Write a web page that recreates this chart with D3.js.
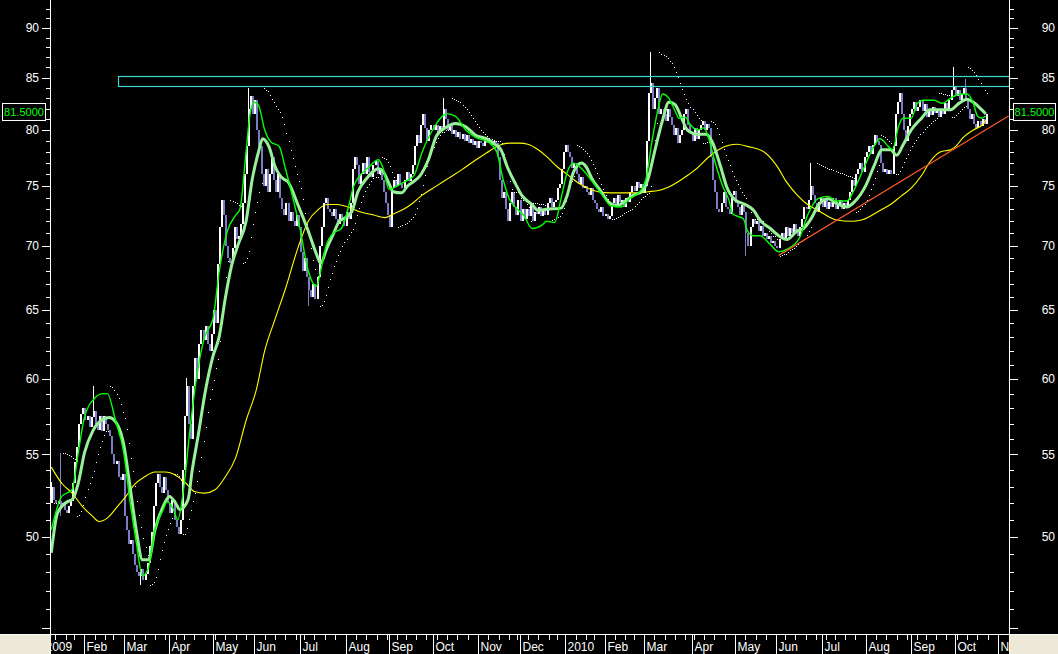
<!DOCTYPE html>
<html><head><meta charset="utf-8">
<script src="https://cdn.jsdelivr.net/npm/d3@7"></script>
<style>html,body{margin:0;padding:0;background:#000;overflow:hidden}svg{display:block}</style>
</head><body><svg id="c" width="1058" height="654"></svg>
<script>
// ---------------- DATA ----------------
const startDate = "2009-01-08";
const holidays = ["2009-01-19","2009-02-16","2009-04-10","2009-05-25","2009-07-03","2009-09-07","2009-11-26","2009-12-25",
  "2010-01-01","2010-01-18","2010-02-15","2010-04-02","2010-05-31","2010-07-05","2010-09-06"];
const monthNames = ["Jan","Feb","Mar","Apr","May","Jun","Jul","Aug","Sep","Oct","Nov","Dec"];
const firstOpen = 52.0;
const closes = [
53.0,52.2,52.0,52.1,51.8, 52.0,51.6,51.4,51.8,52.1, 53.2,54.5,55.5,57.0,57.6, 58.0,57.2,57.5,56.8,57.4,
57.8,57.0,56.6,57.5,56.5, 57.5,57.0,56.6,56.2,55.0, 54.4,54.6,53.6,53.4,53.8, 51.2,50.4,49.6,49.8,49.0,
48.4,48.0,47.8,48.2,47.6, 47.9,48.5,49.5,50.3,51.8, 53.2,53.8,53.0,52.6,53.6, 52.8,52.0,51.4,52.2,51.0,
50.6,50.2,51.0,54.0,57.5, 59.5,57.0,56.0,59.5,61.5, 60.0,62.5,63.5,62.8,63.8, 62.5,62.0,63.2,65.0,64.0,
68.5,71.5,73.8,72.5,70.0, 69.0,68.6,69.8,71.5,70.5, 70.8,71.8,73.5,76.0,78.5, 82.0,83.2,81.5,82.8,80.0,
78.5,76.0,75.0,76.5,74.5, 76.0,77.5,75.5,74.5,76.0, 74.0,73.0,72.5,73.5,72.0, 72.8,72.0,71.6,72.5,71.5,
69.5,68.0,69.0,67.5,66.5, 66.0,67.0,65.8,67.5,70.0, 71.5,73.5,74.0,73.0,72.8, 72.4,73.0,72.2,71.8,72.6,
72.0,71.6,72.8,72.2,73.5, 76.5,77.5,76.8,75.2,76.0, 77.0,76.0,77.5,76.2,75.8, 76.8,77.2,76.0,76.5,75.5,
74.5,73.5,72.5,71.5,74.8, 75.5,75.0,76.0,75.2,74.8, 75.5,76.2,75.4,76.0, 76.8,78.5,79.5,78.8,80.5,
81.5,80.2,79.0,80.0,80.5, 80.0,80.5,79.8,80.4,80.0, 82.0,81.0,80.0,80.5,79.6, 80.0,79.4,79.8,79.2,79.6,
79.0,79.5,78.8,79.2,78.6, 79.0,78.4,79.0,78.8,78.5, 79.2,78.8,79.0,78.6,79.0, 78.8,77.5,75.5,74.0,74.5,
73.0,72.0,73.5,74.5,73.2, 72.5,73.8,72.0,73.0,72.2, 73.0,72.4,73.5,72.0,72.8, 72.6,73.2,72.4,73.0,72.5,
73.5,74.0,73.2,73.6,73.8, 74.8,75.2,76.5,78.0,78.6, 78.0,77.5,76.6,77.0,76.0, 75.2,75.8,74.8,75.0,74.5,
74.2,74.8,73.8,73.5,73.0, 72.8,73.2,72.4,72.6,72.2, 72.4,73.5,74.0,73.2,74.2, 73.6,73.8,73.2,74.0,73.6,
74.5,75.0,74.6,75.3,74.8, 75.2,74.4,75.0,79.0,83.5, 84.5,82.0,83.0,84.0,81.5, 82.0,81.5,80.8,82.0,81.2,
80.5,79.5,80.2,78.8,79.5, 80.0,81.5,82.0,80.5,79.8, 79.0,80.2,79.2,80.0,80.5, 80.8,80.0,80.6,80.2,77.5,
75.5,74.5,73.0,72.8,73.5, 74.5,73.2,73.0,72.6,74.2, 74.6,73.5,73.2,72.5,73.4, 72.8,71.0,70.0,71.5,72.2,
71.8,72.0,71.2,71.6,70.8, 71.0,70.5,70.8,70.2,70.4, 70.0,69.8,70.5,71.0,70.6, 71.5,70.8,71.4,71.0,71.8,
71.2,70.8,71.5,72.2,73.2, 73.0,73.8,75.0,74.2,73.5, 72.8,73.6,74.0,73.2,73.8, 73.0,73.6,73.2,74.0,73.0,
73.4,73.8,73.0,73.5,73.2, 73.8,74.5,75.5,75.0,76.0, 76.5,77.0,76.2,77.5,78.0, 78.5,77.8,78.6,79.5,79.0,
78.6,77.0,76.2,76.5,76.0, 76.4,76.0,78.5,81.5,82.6, 83.5,81.5,80.0,79.0,80.4, 81.5,82.0,82.6,81.8,82.2,
82.8,81.8,82.4,81.2,82.0, 81.4,82.2,81.6,82.0,81.2, 82.0,81.5,82.5,81.8,82.8, 83.8,84.2,83.2,83.8,82.8,
83.4,84.0,83.0,82.0,81.0, 81.5,80.6,80.2,80.8,80.4, 81.0,80.6,81.5];
// notable wick extremes: [bar, high, low]
const spikes = [[0,53.3,52.0],[4,55.1,51.2],[20,59.5,null],[43,null,47.3],[65,60.1,null],[95,84.0,null],
  [124,null,65.3],[189,83.0,null],[289,87.5,null],[335,null,69.2],[366,77.0,null],[435,86.0,null],[441,84.9,null]];
// fast average (thin green): [bar, value]
const fastAvg = [[0,50.4],[5,52.4],[10,52.8],[13,55.1],[16,57.4],[21,58.7],[25,59.0],[27,59.0],[31,57.2],[35,55.1],[38,52.1],[41,49.7],[44,47.8],[47,48.3],[50,50.4],[54,51.6],[56,52.1],[59,51.6],[61,51.0],[64,53.0],[67,56.7],[70,60.0],[74,63.0],[78,64.3],[81,67.9],[85,71.2],[89,72.5],[91,73.0],[94,78.0],[96,81.6],[98,82.6],[100,82.3],[103,80.0],[106,78.9],[110,78.5],[113,76.5],[116,74.4],[120,71.4],[124,68.0],[128,66.8],[130,68.0],[133,70.2],[136,71.0],[140,71.4],[143,72.9],[146,75.0],[153,76.6],[158,77.3],[160,76.6],[163,74.7],[166,74.9],[170,75.3],[175,75.9],[179,78.0],[184,80.0],[191,81.5],[195,81.3],[200,80.0],[205,79.3],[211,78.9],[215,78.0],[218,75.6],[221,73.9],[225,73.0],[228,72.5],[232,71.4],[237,71.7],[239,72.0],[243,71.9],[246,73.9],[249,76.2],[252,77.0],[256,76.5],[261,75.4],[266,74.2],[270,73.3],[275,73.2],[279,73.9],[284,74.5],[287,75.6],[290,79.1],[293,82.1],[295,83.4],[298,83.0],[301,81.8],[303,81.1],[306,81.2],[308,80.6],[312,80.0],[315,80.2],[317,79.4],[320,77.3],[324,75.0],[327,73.8],[329,72.6],[334,72.2],[336,71.2],[339,70.8],[342,70.8],[347,70.1],[351,69.5],[355,69.7],[361,70.6],[365,72.5],[370,73.9],[375,74.1],[379,73.7],[384,73.7],[387,74.5],[392,76.5],[397,78.5],[400,79.2],[404,78.5],[406,78.2],[409,80.4],[411,81.1],[415,81.1],[418,82.5],[421,82.8],[426,82.8],[430,82.5],[434,83.0],[439,83.4],[442,83.4],[445,82.5],[447,81.3],[449,81.1],[451,81.3]];
// medium average (thick light green)
const midAvg = [[0,49.1],[3,51.4],[8,52.1],[10,52.2],[13,53.2],[16,55.1],[20,56.5],[24,57.2],[28,57.4],[32,56.9],[35,55.6],[38,53.0],[41,50.4],[44,48.7],[47,48.7],[50,50.4],[54,51.8],[57,52.4],[60,52.0],[62,51.6],[66,52.2],[68,54.0],[71,56.3],[74,58.9],[78,61.6],[81,63.0],[84,65.9],[87,68.4],[90,70.0],[94,72.0],[97,75.6],[100,78.0],[102,79.2],[105,78.5],[108,76.7],[112,75.6],[114,75.4],[119,73.4],[124,71.2],[128,69.3],[130,68.6],[133,69.8],[136,70.9],[139,72.0],[141,72.2],[145,72.8],[148,74.5],[152,75.6],[158,76.5],[160,76.3],[163,75.2],[165,74.5],[169,74.4],[172,75.0],[175,75.4],[178,75.9],[182,77.3],[186,79.5],[191,80.3],[195,80.6],[200,80.3],[205,79.5],[210,79.2],[214,78.7],[217,78.2],[220,76.7],[224,75.2],[227,74.2],[232,73.4],[235,72.9],[239,73.0],[246,73.1],[249,74.2],[252,76.2],[256,77.0],[258,76.7],[261,75.6],[265,74.6],[269,73.6],[273,73.3],[277,73.7],[281,74.2],[285,74.5],[288,75.6],[291,77.9],[295,80.9],[298,82.6],[301,82.4],[304,81.2],[307,80.0],[312,79.6],[316,79.6],[319,78.9],[323,76.7],[326,74.9],[330,73.8],[335,73.4],[339,72.9],[342,72.1],[347,71.4],[352,70.7],[355,70.5],[360,71.2],[363,71.4],[367,72.3],[370,73.3],[375,73.9],[379,73.5],[384,73.2],[388,73.7],[393,75.0],[397,76.7],[401,78.2],[405,78.2],[408,77.7],[411,78.6],[415,80.0],[420,81.1],[424,81.9],[429,81.9],[434,81.9],[438,82.5],[442,82.9],[445,82.6],[449,81.9],[451,81.5]];
// slow average (yellow)
const slowAvg = [[0,54.2],[5,53.2],[10,52.6],[15,51.8],[20,51.2],[23,50.9],[27,51.1],[32,51.8],[36,52.4],[40,53.1],[45,53.6],[50,53.9],[55,53.9],[60,53.7],[65,53.2],[69,52.7],[74,52.6],[79,52.8],[84,53.6],[89,54.8],[94,57.2],[99,59.3],[103,62.0],[108,64.3],[113,66.6],[119,69.8],[124,72.0],[129,73.0],[133,73.4],[138,73.4],[143,73.2],[149,72.8],[156,72.5],[161,72.3],[165,72.6],[170,73.0],[175,73.6],[179,74.2],[186,75.0],[192,75.7],[198,76.4],[205,77.3],[210,77.9],[215,78.5],[221,78.8],[226,78.8],[230,78.7],[235,78.2],[239,77.6],[244,76.7],[249,76.0],[254,75.3],[259,74.8],[264,74.5],[270,74.4],[277,74.4],[283,74.4],[288,74.5],[293,74.6],[298,74.9],[302,75.3],[307,75.9],[312,76.6],[317,77.5],[322,78.2],[327,78.6],[331,78.7],[336,78.5],[344,78.0],[350,76.8],[355,75.3],[360,74.2],[365,73.4],[370,72.9],[375,72.4],[379,72.1],[386,72.0],[391,72.1],[395,72.4],[400,72.9],[405,73.4],[410,74.1],[415,74.8],[420,75.9],[424,77.1],[429,78.0],[434,78.2],[437,78.6],[440,79.3],[445,80.0],[450,80.6],[451,80.9]];
const zone = {fromBar: 32, toBar: 462, low: 84.1, high: 85.1};
const trend = [[351, 69.2], [462, 81.3]];
const lastPrice = 81.5;
const priceLabels = [50,55,60,65,70,75,80,85,90];

// ---------------- CHART ----------------
const W = 1058, H = 654, plotBottom = 634, leftX = 50, rightX = 1010;
const svg = d3.select("#c");
svg.append("rect").attr("width", W).attr("height", H).attr("fill", "#000");

const x = d3.scaleLinear().domain([0, 457]).range([51.3, 998.2]);
const y = d3.scaleLog().domain([44.7, 92.96]).range([plotBottom, 0]);

svg.append("defs").append("clipPath").attr("id", "plot")
  .append("rect").attr("x", leftX + 1).attr("y", 0).attr("width", rightX - leftX - 1).attr("height", plotBottom);
const g = svg.append("g").attr("clip-path", "url(#plot)");

// candles
const spikeMap = new Map(spikes.map(s => [s[0], s]));
const bars = closes.map((c, i) => {
  const o = i === 0 ? firstOpen : closes[i - 1];
  let hi = Math.max(o, c), lo = Math.min(o, c);
  const s = spikeMap.get(i);
  if (s) { if (s[1] != null) hi = Math.max(hi, s[1]); if (s[2] != null) lo = Math.min(lo, s[2]); }
  return {i, o, c, hi, lo};
});
const upCol = "#ffffff", downCol = "#7c7cc4";
const cg = g.append("g").attr("shape-rendering", "crispEdges");
cg.selectAll("line").data(bars).join("line")
  .attr("x1", d => Math.round(x(d.i)) + 0.5).attr("x2", d => Math.round(x(d.i)) + 0.5)
  .attr("y1", d => y(d.hi)).attr("y2", d => y(d.lo))
  .attr("stroke", d => d.c >= d.o ? upCol : downCol).attr("stroke-width", 1);
cg.selectAll("rect").data(bars).join("rect")
  .attr("x", d => Math.round(x(d.i)))
  .attr("width", 2)
  .attr("y", d => y(Math.max(d.o, d.c)))
  .attr("height", d => Math.max(1, y(Math.min(d.o, d.c)) - y(Math.max(d.o, d.c))))
  .attr("fill", d => d.c >= d.o ? upCol : downCol);

// parabolic SAR from the bars
function psar(b, step, maxAf) {
  const out = [];
  let up = true, af = step, ep = b[0].hi, sar = b[0].lo;
  for (let i = 1; i < b.length; i++) {
    sar = sar + af * (ep - sar);
    if (up) {
      sar = Math.min(sar, b[i - 1].lo, i > 1 ? b[i - 2].lo : b[i - 1].lo);
      if (b[i].lo < sar) { up = false; sar = ep; ep = b[i].lo; af = step; }
      else if (b[i].hi > ep) { ep = b[i].hi; af = Math.min(af + step, maxAf); }
    } else {
      sar = Math.max(sar, b[i - 1].hi, i > 1 ? b[i - 2].hi : b[i - 1].hi);
      if (b[i].hi > sar) { up = true; sar = ep; ep = b[i].hi; af = step; }
      else if (b[i].lo < ep) { ep = b[i].lo; af = Math.min(af + step, maxAf); }
    }
    out.push({i, v: sar});
  }
  return out;
}
const sar = psar(bars, 0.02, 0.2);
g.append("g").attr("shape-rendering", "crispEdges").selectAll("rect").data(sar).join("rect")
  .attr("x", d => Math.round(x(d.i)) + 1).attr("y", d => Math.round(y(d.v)))
  .attr("width", 1).attr("height", 1).attr("fill", "#ffffff");

// averages
const line = d3.line().x(d => x(d[0])).y(d => y(d[1])).curve(d3.curveMonotoneX);
g.append("path").attr("d", line(slowAvg)).attr("fill", "none").attr("stroke", "#ffff00").attr("stroke-width", 1.1);
g.append("path").attr("d", line(midAvg)).attr("fill", "none").attr("stroke", "#98f098").attr("stroke-width", 3);
g.append("path").attr("d", line(fastAvg)).attr("fill", "none").attr("stroke", "#00ff00").attr("stroke-width", 1.4);

// resistance zone
g.append("rect").attr("x", Math.round(x(zone.fromBar)) + 0.5).attr("y", Math.round(y(zone.high)) + 0.5)
  .attr("width", Math.round(x(zone.toBar) - x(zone.fromBar)))
  .attr("height", Math.round(y(zone.low) - y(zone.high)))
  .attr("fill", "none").attr("stroke", "#3fd8cc").attr("stroke-width", 1.2);
// trend line
g.append("line").attr("x1", x(trend[0][0])).attr("y1", y(trend[0][1]))
  .attr("x2", x(trend[1][0])).attr("y2", y(trend[1][1]))
  .attr("stroke", "#ff5a28").attr("stroke-width", 1.2);

// ---------------- AXES ----------------
const font = "'Liberation Sans', Arial, sans-serif";
const ax = svg.append("g").attr("shape-rendering", "crispEdges");
ax.append("line").attr("x1", leftX + 0.5).attr("x2", leftX + 0.5).attr("y1", 0).attr("y2", H).attr("stroke", "#fff");
ax.append("line").attr("x1", rightX - 0.5).attr("x2", rightX - 0.5).attr("y1", 0).attr("y2", H).attr("stroke", "#fff");
const tickVals = d3.range(45, 93);
tickVals.forEach(v => {
  const major = v % 5 === 0;
  const yy = Math.round(y(v)) + 0.5;
  ax.append("line").attr("x1", leftX - (major ? 8 : 4)).attr("x2", leftX).attr("y1", yy).attr("y2", yy).attr("stroke", "#fff");
  ax.append("line").attr("x1", rightX).attr("x2", rightX + (major ? 8 : 4)).attr("y1", yy).attr("y2", yy).attr("stroke", "#fff");
});
priceLabels.forEach(v => {
  svg.append("text").attr("x", 39).attr("y", y(v)).attr("dy", "0.35em").attr("text-anchor", "end")
    .attr("font-family", font).attr("font-size", 12).attr("fill", "#fff").text(v);
  svg.append("text").attr("x", 1055).attr("y", y(v)).attr("dy", "0.35em").attr("text-anchor", "end")
    .attr("font-family", font).attr("font-size", 12).attr("fill", "#fff").text(v);
});
// last price boxes
[[2.5, 43], [1013.5, 42]].forEach(([bx, bw]) => {
  const by = Math.round(y(lastPrice)) - 11 + 0.5;
  svg.append("rect").attr("x", bx).attr("y", by).attr("width", bw).attr("height", 17)
    .attr("fill", "#000").attr("stroke", "#fff").attr("shape-rendering", "crispEdges");
  svg.append("text").attr("x", bx + bw / 2).attr("y", by + 8.5).attr("dy", "0.35em").attr("text-anchor", "middle")
    .attr("font-family", font).attr("font-size", 11).attr("fill", "#00ff00").text(lastPrice.toFixed(4));
});

// time axis
function tradingDays(from, to) {
  const hol = new Set(holidays), out = [];
  const end = new Date(to + "T00:00:00Z");
  for (let d = new Date(from + "T00:00:00Z"); d <= end; d.setUTCDate(d.getUTCDate() + 1)) {
    const wd = d.getUTCDay(), s = d.toISOString().slice(0, 10);
    if (wd === 0 || wd === 6 || hol.has(s)) continue;
    out.push(new Date(d));
  }
  return out;
}
const days = tradingDays("2009-01-02", "2010-11-30");
const base = days.findIndex(d => d.toISOString().slice(0, 10) === startDate);
ax.append("line").attr("x1", 0).attr("x2", W).attr("y1", plotBottom + 0.5).attr("y2", plotBottom + 0.5).attr("stroke", "#fff");
const tg = svg.append("g");
days.forEach((d, k) => {
  const xi = Math.round(x(k - base)) + 0.5;
  if (xi < 40 || xi > rightX) return;
  const prev = days[k - 1];
  const newMonth = !prev || prev.getUTCMonth() !== d.getUTCMonth();
  const newWeek = !prev || d.getUTCDay() <= prev.getUTCDay() || (d - prev) > 3 * 864e5;
  if (newMonth) {
    tg.append("line").attr("x1", xi).attr("x2", xi).attr("y1", plotBottom).attr("y2", H).attr("stroke", "#fff").attr("shape-rendering", "crispEdges");
    const m = d.getUTCMonth();
    tg.append("text").attr("x", xi + 2).attr("y", 651).attr("font-family", font).attr("font-size", 12)
      .attr("fill", "#fff").text(m === 0 ? String(d.getUTCFullYear()) : monthNames[m]);
  } else if (newWeek) {
    tg.append("line").attr("x1", xi).attr("x2", xi).attr("y1", plotBottom).attr("y2", plotBottom + 6).attr("stroke", "#fff").attr("shape-rendering", "crispEdges");
  }
});
// corner panels
svg.append("rect").attr("x", 0).attr("y", plotBottom + 1).attr("width", leftX).attr("height", H - plotBottom - 1).attr("fill", "#ece9d8");
svg.append("rect").attr("x", rightX).attr("y", plotBottom + 1).attr("width", W - rightX).attr("height", H - plotBottom - 1).attr("fill", "#ece9d8");
svg.append("line").attr("x1", leftX + 0.5).attr("x2", leftX + 0.5).attr("y1", plotBottom).attr("y2", H).attr("stroke", "#fff").attr("shape-rendering", "crispEdges");
svg.append("line").attr("x1", rightX - 0.5).attr("x2", rightX - 0.5).attr("y1", plotBottom).attr("y2", H).attr("stroke", "#fff").attr("shape-rendering", "crispEdges");
</script></body></html>
